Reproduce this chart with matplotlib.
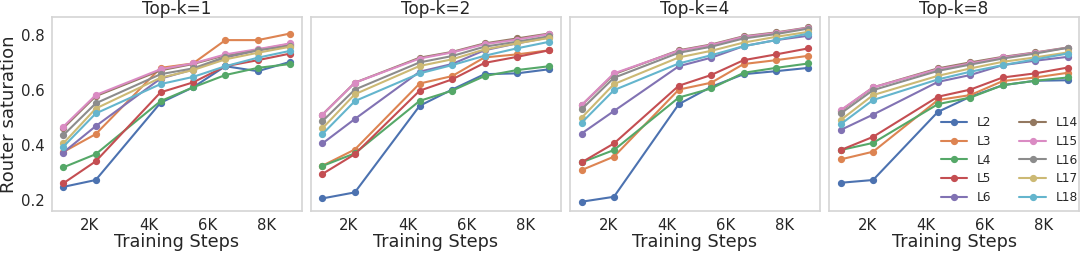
import matplotlib
matplotlib.use("Agg")
import matplotlib.pyplot as plt
import seaborn as sns

sns.set_theme(style="whitegrid")
plt.rcParams['font.family'] = ['DejaVu Sans']

steps = [1100, 2200, 4400, 5500, 6600, 7700, 8800]
layers = ["L2", "L3", "L4", "L5", "L6", "L14", "L15", "L16", "L17", "L18"]
titles = ["Top-k=1", "Top-k=2", "Top-k=4", "Top-k=8"]

topk1 = {
    "L2":  [0.248, 0.273, 0.554, 0.610, 0.687, 0.669, 0.703],
    "L3":  [0.375, 0.440, 0.681, 0.697, 0.782, 0.782, 0.806],
    "L4":  [0.319, 0.367, 0.560, 0.610, 0.655, 0.681, 0.695],
    "L5":  [0.261, 0.341, 0.592, 0.628, 0.687, 0.709, 0.733],
    "L6":  [0.373, 0.469, 0.642, 0.675, 0.719, 0.745, 0.766],
    "L14": [0.462, 0.578, 0.672, 0.695, 0.727, 0.747, 0.768],
    "L15": [0.467, 0.582, 0.676, 0.697, 0.730, 0.749, 0.770],
    "L16": [0.436, 0.552, 0.658, 0.679, 0.721, 0.745, 0.761],
    "L17": [0.406, 0.533, 0.645, 0.673, 0.712, 0.736, 0.758],
    "L18": [0.394, 0.515, 0.622, 0.648, 0.687, 0.718, 0.743],
}
topk2 = {
    "L2":  [0.206, 0.228, 0.543, 0.602, 0.658, 0.661, 0.676],
    "L3":  [0.325, 0.384, 0.624, 0.651, 0.719, 0.730, 0.745],
    "L4":  [0.324, 0.370, 0.561, 0.598, 0.651, 0.673, 0.687],
    "L5":  [0.295, 0.367, 0.598, 0.639, 0.699, 0.721, 0.745],
    "L6":  [0.406, 0.495, 0.667, 0.695, 0.745, 0.770, 0.792],
    "L14": [0.511, 0.627, 0.718, 0.739, 0.770, 0.788, 0.806],
    "L15": [0.511, 0.627, 0.715, 0.737, 0.767, 0.784, 0.804],
    "L16": [0.487, 0.602, 0.701, 0.724, 0.758, 0.776, 0.796],
    "L17": [0.461, 0.585, 0.688, 0.712, 0.748, 0.770, 0.790],
    "L18": [0.440, 0.560, 0.661, 0.691, 0.725, 0.752, 0.776],
}
topk4 = {
    "L2":  [0.194, 0.212, 0.549, 0.612, 0.658, 0.669, 0.681],
    "L3":  [0.309, 0.358, 0.602, 0.627, 0.695, 0.709, 0.725],
    "L4":  [0.337, 0.382, 0.573, 0.606, 0.663, 0.681, 0.697],
    "L5":  [0.337, 0.406, 0.616, 0.655, 0.709, 0.730, 0.752],
    "L6":  [0.442, 0.524, 0.687, 0.718, 0.760, 0.782, 0.798],
    "L14": [0.545, 0.658, 0.745, 0.766, 0.796, 0.810, 0.828],
    "L15": [0.545, 0.661, 0.743, 0.764, 0.794, 0.808, 0.827],
    "L16": [0.530, 0.645, 0.736, 0.758, 0.788, 0.804, 0.824],
    "L17": [0.499, 0.622, 0.719, 0.743, 0.773, 0.794, 0.812],
    "L18": [0.481, 0.600, 0.697, 0.727, 0.760, 0.782, 0.806],
}
topk8 = {
    "L2":  [0.263, 0.273, 0.521, 0.576, 0.618, 0.634, 0.636],
    "L3":  [0.348, 0.376, 0.564, 0.582, 0.633, 0.646, 0.663],
    "L4":  [0.382, 0.408, 0.549, 0.573, 0.618, 0.634, 0.646],
    "L5":  [0.382, 0.430, 0.576, 0.602, 0.646, 0.661, 0.682],
    "L6":  [0.455, 0.511, 0.630, 0.655, 0.691, 0.707, 0.721],
    "L14": [0.525, 0.610, 0.679, 0.701, 0.721, 0.737, 0.755],
    "L15": [0.527, 0.610, 0.676, 0.697, 0.719, 0.736, 0.754],
    "L16": [0.515, 0.600, 0.670, 0.693, 0.715, 0.733, 0.754],
    "L17": [0.491, 0.582, 0.652, 0.679, 0.703, 0.719, 0.737],
    "L18": [0.476, 0.564, 0.639, 0.667, 0.691, 0.712, 0.733],
}
panels = [topk1, topk2, topk4, topk8]

colors = sns.color_palette("deep", 10)

fig, axes = plt.subplots(1, 4, figsize=(10.8, 2.54), dpi=100, sharey=True)
fig.subplots_adjust(left=0.0481, right=0.999, top=0.933, bottom=0.169, wspace=0.038)

for ax, title, data in zip(axes, titles, panels):
    for i, layer in enumerate(layers):
        ax.plot(steps, data[layer], marker="o", markersize=4.2, linewidth=1.5,
                color=colors[i], label=layer)
    ax.set_title(title, fontsize=12.2, pad=2)
    ax.grid(False)
    ax.set_xticks([2000, 4000, 6000, 8000])
    ax.set_xticklabels(["2K", "4K", "6K", "8K"])
    ax.set_xlabel("Training Steps", fontsize=12.7, labelpad=0)
    ax.tick_params(axis="both", length=0, pad=5, labelsize=10.7)
    for s in ax.spines.values():
        s.set_edgecolor("0.83")
        s.set_linewidth(1.2)

axes[0].set_ylim(0.16, 0.866)
axes[0].set_yticks([0.2, 0.4, 0.6, 0.8])
axes[0].set_ylabel("Router saturation", fontsize=13, labelpad=2)

axes[3].legend(ncol=2, loc="lower right", bbox_to_anchor=(1.0, 0.03),
               frameon=False, fontsize=8.7, handlelength=2.2, handletextpad=0.8,
               columnspacing=2.3, labelspacing=0.47, borderaxespad=0.0,
               borderpad=0.1)

fig.savefig("out.png", dpi=100)
